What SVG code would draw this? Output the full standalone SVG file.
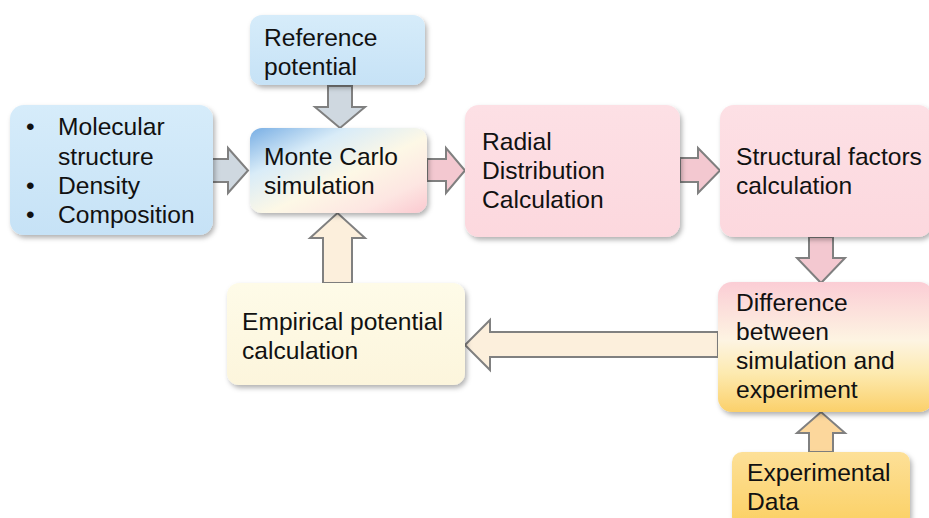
<svg xmlns="http://www.w3.org/2000/svg" width="929" height="518" viewBox="0 0 929 518">
<style>
  .t { font-family: "Liberation Sans", Arial, sans-serif; font-size: 24.6px; fill: #111; }
  .box { stroke: none; filter: url(#sh); }
  .arr { stroke: #808080; stroke-width: 2; stroke-linejoin: miter; }
  .blue { fill: url(#gBlue); }
  .pink { fill: url(#gPink); }
  .cream { fill: url(#gCream); }
  .ablue { fill: #cfd8e0; }
  .apink { fill: #f3c8d0; }
  .acream { fill: #fcefdc; }
  .aorange { fill: #fcd79c; }
</style>
<defs>
  <filter id="sh" x="-10%" y="-10%" width="125%" height="130%">
    <feDropShadow dx="2" dy="3" stdDeviation="2.5" flood-color="#000" flood-opacity="0.3"/>
  </filter>
  <linearGradient id="gBlue" x1="0" y1="0" x2="0" y2="1">
    <stop offset="0" stop-color="#d6ecfa"/>
    <stop offset="1" stop-color="#c6e2f6"/>
  </linearGradient>
  <linearGradient id="gPink" x1="0" y1="0" x2="0" y2="1">
    <stop offset="0" stop-color="#fde0e5"/>
    <stop offset="1" stop-color="#fcd8de"/>
  </linearGradient>
  <linearGradient id="gCream" x1="0" y1="0" x2="0" y2="1">
    <stop offset="0" stop-color="#fefbe8"/>
    <stop offset="1" stop-color="#fcf5dc"/>
  </linearGradient>
  <linearGradient id="gMC" x1="0" y1="0" x2="1" y2="1">
    <stop offset="0" stop-color="#78aee4"/>
    <stop offset="0.28" stop-color="#d9ecf8"/>
    <stop offset="0.55" stop-color="#fdf8e6"/>
    <stop offset="0.8" stop-color="#fde6e2"/>
    <stop offset="1" stop-color="#fbc9d0"/>
  </linearGradient>
  <linearGradient id="gDiff" x1="0" y1="0" x2="0" y2="1">
    <stop offset="0" stop-color="#fbcdd5"/>
    <stop offset="0.45" stop-color="#fdf4e2"/>
    <stop offset="0.7" stop-color="#fdeab0"/>
    <stop offset="1" stop-color="#fbd06a"/>
  </linearGradient>
  <linearGradient id="gExp" x1="0" y1="0" x2="0" y2="1">
    <stop offset="0" stop-color="#fde098"/>
    <stop offset="1" stop-color="#fbd063"/>
  </linearGradient>
</defs>

<g id="connectors">
  <polygon class="arr ablue" points="328,86 352,86 352,107 365,107 340,128 315,107 328,107"/>
  <polygon class="arr ablue" points="212,159 228,159 228,148 248,170.5 228,193 228,182 212,182"/>
  <polygon class="arr apink" points="427,159 446,159 446,148 465,170.5 446,193 446,181 427,181"/>
  <polygon class="arr apink" points="680,158 698,158 698,148 720,170.5 698,193 698,182 680,182"/>
  <polygon class="arr apink" points="809,237 833,237 833,258 845,258 821,283 797,258 809,258"/>
  <polygon class="arr aorange" points="809,452 833,452 833,433 845,433 821,412 797,433 809,433"/>
  <polygon class="arr acream" points="323,283 352,283 352,238 365,238 337.5,213 310,238 323,238"/>
  <polygon class="arr acream" points="718,332 490,332 490,320 465,345 490,370 490,357 718,357"/>
</g>

<g id="reference">
  <rect class="box blue" x="250" y="15" width="175" height="70" rx="12"/>
  <text class="t" x="264" y="46">Reference</text>
  <text class="t" x="264" y="75">potential</text>
</g>

<g id="inputs">
  <rect class="box blue" x="10" y="105" width="203" height="130" rx="14"/>
  <text class="t" x="26" y="135">•</text>
  <text class="t" x="58" y="135">Molecular</text>
  <text class="t" x="58" y="165">structure</text>
  <text class="t" x="26" y="194">•</text>
  <text class="t" x="58" y="194">Density</text>
  <text class="t" x="26" y="223">•</text>
  <text class="t" x="58" y="223">Composition</text>
</g>

<g id="montecarlo">
  <rect class="box" fill="url(#gMC)" x="250" y="128" width="177" height="85" rx="12"/>
  <text class="t" x="264" y="165">Monte Carlo</text>
  <text class="t" x="264" y="194">simulation</text>
</g>

<g id="radial">
  <rect class="box pink" x="465" y="105" width="215" height="132" rx="14"/>
  <text class="t" x="482" y="150">Radial</text>
  <text class="t" x="482" y="179">Distribution</text>
  <text class="t" x="482" y="208">Calculation</text>
</g>

<g id="structural">
  <rect class="box pink" x="720" y="105" width="212" height="132" rx="14"/>
  <text class="t" x="736" y="165">Structural factors</text>
  <text class="t" x="736" y="194">calculation</text>
</g>

<g id="empirical">
  <rect class="box cream" x="227" y="283" width="238" height="102" rx="12"/>
  <text class="t" x="242" y="330">Empirical potential</text>
  <text class="t" x="242" y="359">calculation</text>
</g>

<g id="difference">
  <rect class="box" fill="url(#gDiff)" x="718" y="282" width="215" height="130" rx="14"/>
  <text class="t" x="736" y="311">Difference</text>
  <text class="t" x="736" y="340">between</text>
  <text class="t" x="736" y="369">simulation and</text>
  <text class="t" x="736" y="398">experiment</text>
</g>

<g id="experimental">
  <rect class="box" fill="url(#gExp)" x="732" y="452" width="178" height="75" rx="10"/>
  <text class="t" x="747" y="481">Experimental</text>
  <text class="t" x="747" y="510">Data</text>
</g>
</svg>
